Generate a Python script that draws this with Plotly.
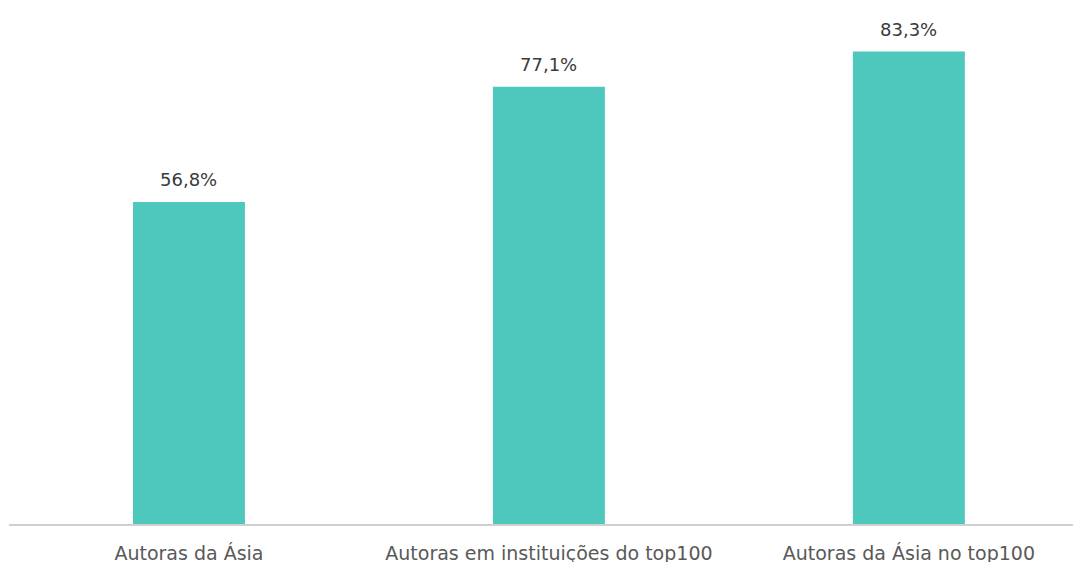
import plotly.graph_objects as go

categories = ["Autoras da Ásia", "Autoras em instituições do top100", "Autoras da Ásia no top100"]
values = [56.8, 77.1, 83.3]
labels = ["56,8%", "77,1%", "83,3%"]

fig = go.Figure()
fig.add_trace(go.Bar(
    x=categories, y=values, width=0.311,
    marker=dict(color="#4EC7BD", line=dict(width=0)),
    hoverinfo="skip",
))
for c, v, t in zip(categories, values, labels):
    fig.add_annotation(x=c, y=v, text=t, showarrow=False, yanchor="bottom", yshift=10,
                       font=dict(family="DejaVu Sans", size=18, color="#3A3A3A"))

fig.update_layout(
    width=1073, height=562,
    margin=dict(l=9, r=0, t=0, b=38),
    plot_bgcolor="white", paper_bgcolor="white",
    showlegend=False,
    xaxis=dict(range=[-0.5, 2.456], showline=True, linecolor="#D0D0D0", linewidth=2,
               ticks="", showgrid=False, ticklabelstandoff=11, automargin=False,
               tickfont=dict(family="DejaVu Sans", size=19, color="#595959")),
    yaxis=dict(range=[0, 92.4], visible=False, showgrid=False, zeroline=False),
)
fig.write_html("out.html")
